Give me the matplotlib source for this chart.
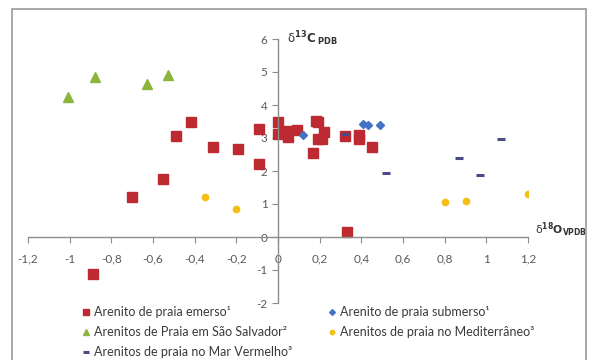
import matplotlib
matplotlib.use("Agg")
import matplotlib.pyplot as plt
from matplotlib.patches import Rectangle

plt.rcParams['font.family'] = ['Lato', 'DejaVu Sans']

# Arenito de praia emerso (1)
emerso_x = [-0.89, -0.70, -0.55, -0.49, -0.42, -0.31, -0.19, -0.09, -0.09,
            0.0, 0.0, 0.025, 0.04, 0.05, 0.09, 0.18, 0.19, 0.17, 0.19, 0.21,
            0.22, 0.32, 0.39, 0.39, 0.45, 0.33]
emerso_y = [-1.13, 1.22, 1.75, 3.05, 3.48, 2.72, 2.67, 3.27, 2.21,
            3.49, 3.12, 3.16, 3.20, 3.03, 3.25, 3.52, 3.50, 2.55, 2.96, 2.96,
            3.18, 3.06, 3.08, 2.98, 2.74, 0.15]

# Arenito de praia submerso (1)
submerso_x = [0.12, 0.41, 0.43, 0.49]
submerso_y = [3.09, 3.42, 3.38, 3.40]

# Arenitos de Praia em Sao Salvador (2)
salvador_x = [-1.01, -0.88, -0.63, -0.53]
salvador_y = [4.25, 4.86, 4.63, 4.90]

# Arenitos de praia no Mediterraneo (3)
medit_x = [-0.35, -0.20, 0.80, 0.90, 1.20]
medit_y = [1.20, 0.85, 1.05, 1.10, 1.30]

# Arenitos de praia no Mar Vermelho (3)
vermelho_x = [0.32, 0.52, 0.87, 0.97, 1.07]
vermelho_y = [3.13, 1.93, 2.40, 1.88, 2.97]

x_ticks = [-1.2, -1, -0.8, -0.6, -0.4, -0.2, 0, 0.2, 0.4, 0.6, 0.8, 1, 1.2]
y_ticks = [-2, -1, 0, 1, 2, 3, 4, 5, 6]

fig = plt.figure(figsize=(5.94, 3.6), dpi=100)
fig.patches.append(Rectangle((12 / 594, -0.05), 574 / 594, 1 - 9 / 360 + 0.05,
                             transform=fig.transFigure, fill=False,
                             edgecolor='#9a9a9a', linewidth=1.2))

ax = fig.add_axes([28 / 594, 1 - 303 / 360, 500 / 594, 264 / 360])
ax.set_xlim(-1.2, 1.2)
ax.set_ylim(-2, 6)

h1, = ax.plot(emerso_x, emerso_y, 's', color='#BE2A31', markersize=6.5, linestyle='none')
h2, = ax.plot(submerso_x, submerso_y, 'D', color='#4473C5', markersize=4.2, linestyle='none')
h3, = ax.plot(salvador_x, salvador_y, '^', color='#8DB43C', markersize=7, linestyle='none')
h4, = ax.plot(medit_x, medit_y, 'o', color='#F4BE12', markersize=4.5, linestyle='none')
h5, = ax.plot(vermelho_x, vermelho_y, '_', color='#4B4B85', markersize=6,
              markeredgewidth=2.2, linestyle='none')

for side in ['top', 'right']:
    ax.spines[side].set_visible(False)
for side in ['left', 'bottom']:
    ax.spines[side].set_position(('data', 0))
    ax.spines[side].set_color('#8c8c8c')
    ax.spines[side].set_linewidth(1.0)

ax.set_xticks(x_ticks)
ax.set_xticklabels([('%g' % v).replace('.', ',') for v in x_ticks])
ax.set_yticks(y_ticks)
ax.set_yticklabels([str(v) for v in y_ticks])
ax.tick_params(axis='both', colors='#8c8c8c', labelcolor='#595959',
               labelsize=8.5, length=4, width=0.8)
ax.tick_params(axis='x', pad=8)
ax.patch.set_alpha(0)

ax.text(0.045, 6.0, r'$\mathrm{\delta}^{\mathbf{13}}\mathbf{C}_{\ \mathbf{PDB}}$', fontsize=8.5,
        ha='left', va='center', color='#333333')
ax.text(1.235, 0.22, r'$\mathrm{\delta}^{\mathbf{18}}\mathbf{O}_{\mathbf{VPDB}}$', fontsize=7.8,
        ha='left', va='center', color='#333333', clip_on=False)

handles = [h1, h3, h5, h2, h4]
labels = ['Arenito de praia emerso¹',
          'Arenitos de Praia em São Salvador²',
          'Arenitos de praia no Mar Vermelho³',
          'Arenito de praia submerso¹',
          'Arenitos de praia no Mediterrâneo³']
leg = fig.legend(handles, labels, ncol=2, loc='upper left',
                 bbox_to_anchor=(71 / 594, 1 - 295 / 360), frameon=False,
                 fontsize=9, handlelength=0.6, handletextpad=0.3,
                 columnspacing=2.95, labelspacing=0.64, markerscale=0.7)
for t in leg.get_texts():
    t.set_color('#3a3a3a')

fig.savefig('out.png', dpi=100)
